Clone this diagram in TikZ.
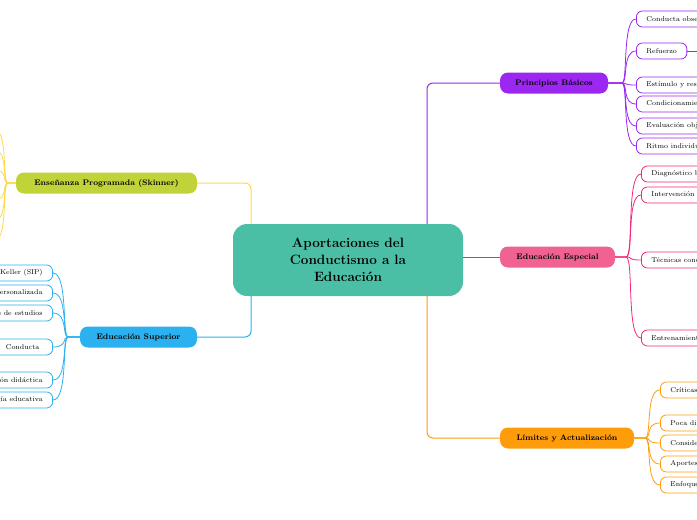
\documentclass[tikz,border=0pt]{standalone}
\usepackage{tikz}
\usetikzlibrary{positioning}
\definecolor{teal}{HTML}{4BBFA5}
\definecolor{purp}{HTML}{9C27F0}
\definecolor{pinkl}{HTML}{F06292}
\definecolor{pinkd}{HTML}{F0287A}
\definecolor{orng}{HTML}{FF9C0C}
\definecolor{yell}{HTML}{FFD84A}
\definecolor{olive}{HTML}{C2D33A}
\definecolor{blue}{HTML}{2BB0F0}
\begin{document}
\begin{tikzpicture}[x=1pt, y=-1pt,
    main/.style = {fill=teal, rounded corners=14pt, minimum width=230pt, minimum height=72pt,
        align=center, font=\bfseries\fontsize{13.5}{17}\selectfont},
    topic/.style = {fill=#1, rounded corners=8pt, minimum height=21pt, inner sep=0pt,
        font=\bfseries\fontsize{8}{10}\selectfont},
    leaf/.style = {draw=#1, fill=white, rounded corners=6pt, minimum height=16pt, inner ysep=0pt,
        inner xsep=10pt, font=\fontsize{7}{8}\selectfont, line width=0.8pt},
    link/.style = {draw=#1, line width=1pt, rounded corners=6pt}]
\useasboundingbox (0,0) rectangle (697,520);
\clip (0,0) rectangle (697,520);
% central topic
\node[main] (center) at (348,260) {Aportaciones del\\Conductismo a la\\Educación};
% main topics
\node[topic=purp, minimum width=108pt] (princ) at (554,83) {Principios Básicos};
\node[topic=pinkl, minimum width=115pt] (espec) at (557.5,257) {Educación Especial};
\node[topic=orng, minimum width=134pt] (limit) at (567,438) {Límites y Actualización};
\node[topic=olive, minimum width=181pt] (ensen) at (106.5,183) {Enseñanza Programada (Skinner)};
\node[topic=blue, minimum width=117pt] (super) at (138.5,337) {Educación Superior};
\draw[link=purp] (427,224) |- (princ.west);
\draw[link=pinkd] (463,257) -- (espec.west);
\draw[link=orng] (427,296) |- (limit.west);
\draw[link=yell] (251,224) |- (ensen.east);
\draw[link=blue] (251,296) |- (super.east);
% leaves of Principios Basicos
\foreach \name/\y/\txt in {p1/19/Conducta observable, p3/85/Estímulo y respuesta,
    p4/104/Condicionamiento operante, p5/126/Evaluación objetiva, p6/146/Ritmo individual} {
  \node[leaf=purp, anchor=west] (\name) at (636,\y) {\txt};
  \draw[purp, line width=0.8pt] (princ.east) -- (622,83) .. controls (628,83) and (622,\y) .. (\name.west);
}
\node[leaf=purp, anchor=west, minimum width=50pt] (p2) at (636,51) {Refuerzo};
\draw[purp, line width=0.8pt] (princ.east) -- (622,83) .. controls (628,83) and (622,51) .. (p2.west);
\coordinate (p2end) at (700,51);
\draw[purp, line width=1pt] (p2.east) -- (p2end);
% leaves of Educacion Especial
\foreach \name/\y/\txt in {e1/174/Diagnóstico basado en conducta, e2/195/Intervención temprana,
    e3/260/Técnicas conductuales, e4/338/Entrenamiento de habilidades} {
  \node[leaf=pinkd, anchor=west] (\name) at (641,\y) {\txt};
  \draw[pinkd, line width=0.8pt] (espec.east) -- (626,257) .. controls (634,257) and (626,\y) .. (\name.west);
}
% leaves of Limites
\foreach \name/\y/\txt in {l1/390/Críticas, l2/423/Poca difusión, l3/443/Consideraciones,
    l4/464/Aportes actuales, l5/485/Enfoques} {
  \node[leaf=orng, anchor=west] (\name) at (660,\y) {\txt};
  \draw[orng, line width=0.8pt] (limit.east) -- (645,438) .. controls (652,438) and (645,\y) .. (\name.west);
}
% leaves of Educacion Superior
\foreach \name/\y/\txt in {s1/273/Sistema Keller (SIP), s2/293/Instrucción personalizada,
    s3/313/Planes de estudios, s5/380/Planificación didáctica, s6/400/Tecnología educativa} {
  \node[leaf=blue, anchor=east] (\name) at (53,\y) {\txt};
  \draw[blue, line width=0.8pt] (super.west) -- (68,337) .. controls (62,337) and (68,\y) .. (\name.east);
}
\node[leaf=blue, anchor=east, minimum width=60pt] (s4) at (53,347) {Conducta};
\draw[blue, line width=0.8pt] (super.west) -- (68,337) .. controls (62,337) and (68,347) .. (s4.east);
% leaves of Ensenanza Programada (off the page)
\foreach \y in {130,150,170,200,220,240} {
  \coordinate (y\y) at (-5,\y);
  \draw[yell, line width=0.8pt] (ensen.west) -- (8,183) .. controls (2,183) and (8,\y) .. (y\y);
}
\end{tikzpicture}
\end{document}
